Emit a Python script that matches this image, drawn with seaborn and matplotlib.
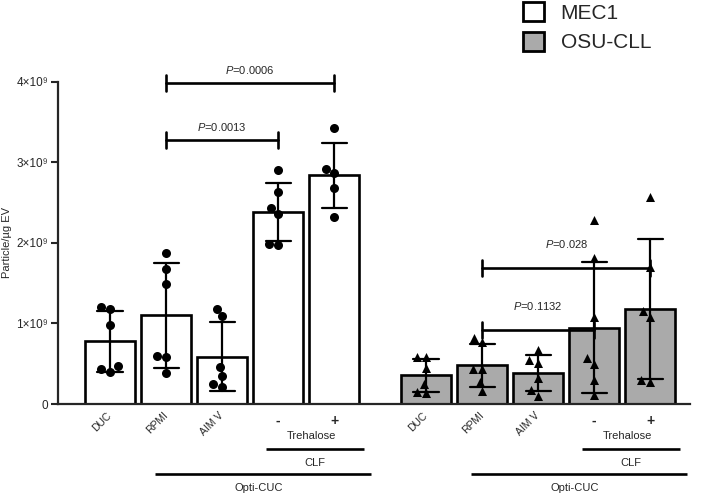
import seaborn as sns
import pandas as pd
import matplotlib.pyplot as plt
import numpy as np
from matplotlib.patches import Patch
import matplotlib.transforms as mtransforms

# data, particles per ug EV in units of 1e9
conditions = ['DUC', 'RPMI', 'AIM V', 'CLF -', 'CLF +']
tick_labels = ['DUC', 'RPMI', 'AIM V', '-', '+']
cell_lines = ['MEC1', 'OSU-CLL']

mec1_points = [
    [0.40, 0.47, 0.43, 0.98, 1.18, 1.20],
    [1.88, 1.68, 1.49, 0.60, 0.58, 0.385],
    [1.09, 1.18, 0.46, 0.35, 0.21, 0.25],
    [2.91, 2.63, 2.36, 2.43, 1.98, 1.99],
    [3.43, 2.87, 2.92, 2.68, 2.32],
]
osu_points = [
    [0.58, 0.58, 0.45, 0.25, 0.14, 0.15],
    [0.77, 0.82, 0.43, 0.43, 0.27, 0.16],
    [0.67, 0.55, 0.51, 0.32, 0.17, 0.10],
    [2.28, 1.81, 1.08, 0.50, 0.57, 0.30, 0.11],
    [2.57, 1.70, 1.08, 1.15, 0.27, 0.30],
]

# comparisons: (cell line, from condition, to condition, height in 1e9, label)
comparisons = [
    ('MEC1', 1, 4, 3.99, '0.0006'),
    ('MEC1', 1, 3, 3.28, '0.0013'),
    ('OSU-CLL', 1, 4, 1.69, '0.028'),
    ('OSU-CLL', 1, 3, 0.92, '0.1132'),
]

group_gap = 5.64
colors = {'MEC1': 'white', 'OSU-CLL': '#aaaaaa'}
markers = {'MEC1': 'o', 'OSU-CLL': '^'}

rows = []
for g, (cell, pts) in enumerate(zip(cell_lines, [mec1_points, osu_points])):
    for i, vals in enumerate(pts):
        for v in vals:
            rows.append({'cell': cell, 'condition': conditions[i],
                         'pos': i + g * group_gap, 'value': v * 1e9})
df = pd.DataFrame(rows)

sns.set_style('ticks')
plt.rcParams['font.family'] = ['Liberation Sans', 'DejaVu Sans']
plt.rcParams['mathtext.fontset'] = 'custom'
plt.rcParams['mathtext.rm'] = 'Liberation Sans'
plt.rcParams['mathtext.it'] = 'Liberation Sans:italic'

fig = plt.figure(figsize=(7.02, 4.94), dpi=100)
ax = fig.add_axes([58 / 702, 90 / 494, 632 / 702, 322 / 494])

for cell in cell_lines:
    sub = df[df['cell'] == cell]
    sns.barplot(data=sub, x='pos', y='value', native_scale=True, width=0.89,
                color=colors[cell], saturation=1, edgecolor='black', linewidth=1.9,
                errorbar='sd', capsize=0.45,
                err_kws={'color': 'black', 'linewidth': 1.6}, ax=ax)
    sns.swarmplot(data=sub, x='pos', y='value', native_scale=True, color='black',
                  marker=markers[cell], size=6.5, ax=ax, zorder=5)

positions = sorted(df['pos'].unique())
ax.set_xlim(-0.93, 4 + group_gap + 0.71)
ax.set_ylim(0, 4e9)
ax.set_yticks([0, 1e9, 2e9, 3e9, 4e9])
ax.set_yticklabels(['0', '1×10⁹', '2×10⁹', '3×10⁹', '4×10⁹'], fontsize=8.5)
ax.set_xticks(positions)
ax.set_xticklabels(tick_labels * 2)
ax.set_xlabel('')
ax.set_ylabel('Particle/µg EV', fontsize=8)
ax.yaxis.set_label_coords(-0.073, 0.5)
for lab in ax.get_xticklabels():
    if lab.get_text() in ('-', '+'):
        lab.set_fontsize(10)
        lab.set_fontweight('bold')
    else:
        lab.set_fontsize(7.5)
        lab.set_rotation(45)
        lab.set_ha('right')
        lab.set_va('center')
        lab.set_rotation_mode('anchor')
ax.tick_params(axis='x', length=0, pad=7)
ax.tick_params(axis='y', length=5, width=1.5, pad=2)
sns.despine(ax=ax)
ax.spines['left'].set_linewidth(1.6)
ax.spines['bottom'].set_linewidth(1.6)

# group annotations under the axis
trans = mtransforms.blended_transform_factory(ax.transData, ax.transAxes)
for g in range(2):
    off = g * group_gap
    ax.text(off + 3.6, -0.099, 'Trehalose', transform=trans, ha='center', va='center', fontsize=8)
    ax.plot([off + 2.78, off + 4.53], [-0.14, -0.14], transform=trans, color='black',
            lw=1.9, clip_on=False, solid_capstyle='butt')
    ax.text(off + 3.65, -0.183, 'CLF', transform=trans, ha='center', va='center', fontsize=8)
    ax.plot([off + 0.8, off + 4.65], [-0.217, -0.217], transform=trans, color='black',
            lw=1.9, clip_on=False, solid_capstyle='butt')
    ax.text(off + 2.65, -0.26, 'Opti-CUC', transform=trans, ha='center', va='center', fontsize=8)

# significance brackets
for cell, a, b, h, p in comparisons:
    off = cell_lines.index(cell) * group_gap
    x1, x2, y = a + off, b + off, h * 1e9
    ax.plot([x1, x2], [y, y], color='black', lw=1.9, clip_on=False)
    for x in (x1, x2):
        ax.plot([x, x], [y - 0.1e9, y + 0.1e9], color='black', lw=1.9, clip_on=False)
    gap = 0.16e9 if cell == 'MEC1' else 0.3e9
    ax.text((x1 + x2) / 2, y + gap, '$P$=' + p, ha='center', va='center', fontsize=8)

handles = [Patch(facecolor=colors[c], edgecolor='black', linewidth=2) for c in cell_lines]
fig.legend(handles, cell_lines, loc='upper left', bbox_to_anchor=(521 / 702, 1.0),
           frameon=False, fontsize=15, handlelength=1.0, handleheight=1.0,
           handletextpad=0.8, labelspacing=0.45, borderaxespad=0, borderpad=0.1)

fig.savefig('out.png', dpi=100)
